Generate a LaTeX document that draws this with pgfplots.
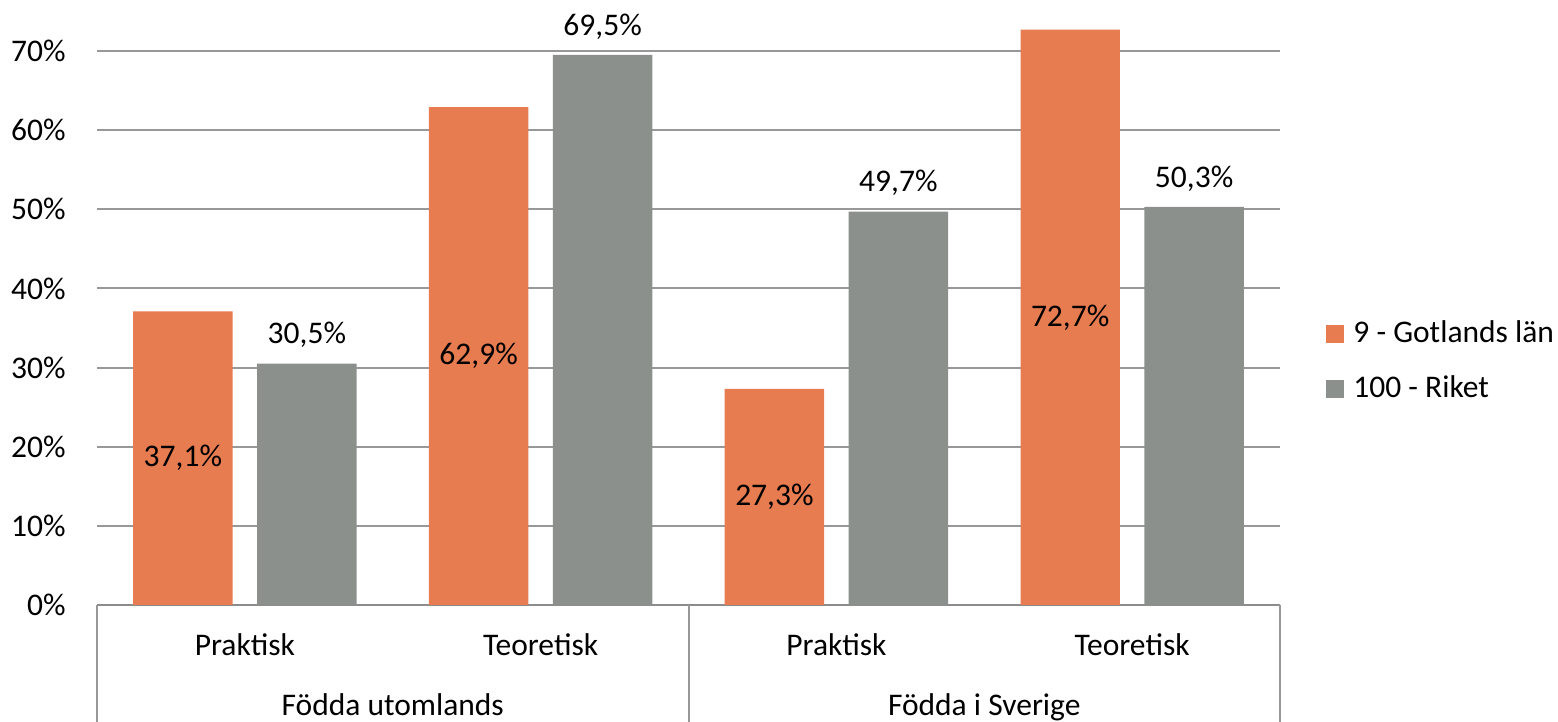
\documentclass[border=0pt]{standalone}
\usepackage{pgfplots}
\usepackage{pgfplotstable}
\pgfplotsset{compat=1.18}
\usepackage{fontspec}
\setmainfont{Carlito}
\definecolor{cOr}{RGB}{230,124,80}
\definecolor{cGr}{RGB}{140,144,141}
\definecolor{cGrid}{RGB}{152,152,152}
\definecolor{cAxis}{RGB}{140,140,140}

\pgfplotstableread{
x v
0 37.1
1 62.9
2 27.3
3 72.7
}\gotland
\pgfplotstableread{
x v
0 30.5
1 69.5
2 49.7
3 50.3
}\riket

\begin{document}
{\fontsize{15.75pt}{19pt}\selectfont
\begin{tikzpicture}
\path[use as bounding box] (-48.5pt,-58.5pt) rectangle (730.5pt,302.5pt);
\begin{axis}[
  at={(0,0)}, anchor=south west,
  scale only axis, width=591.5pt, height=302.5pt,
  xmin=-0.5, xmax=3.5, ymin=0, ymax=76.45,
  enlargelimits=false,
  clip=false,
  ybar=12.35pt, bar width=0.3357,
  axis x line*=bottom, axis y line*=left,
  x axis line style={draw=cAxis, line width=1pt, -},
  y axis line style={draw=none},
  major tick length=0pt,
  ytick={0,10,20,30,40,50,60,70},
  yticklabels={0\%,10\%,20\%,30\%,40\%,50\%,60\%,70\%},
  yticklabel style={anchor=east, inner sep=0pt, xshift=-15.5pt},
  xtick={0,1,2,3},
  xticklabels={Praktisk,Teoretisk,Praktisk,Teoretisk},
  xticklabel style={anchor=base, inner sep=0pt, yshift=-25.5pt},
  ymajorgrids, grid style={draw=cGrid, line width=1pt},
  legend style={draw=none, fill=none, at={(1.0389,0.4058)}, anchor=west,
    inner xsep=0pt, inner ysep=0pt, row sep=16.5pt,
    nodes={inner sep=0pt, text depth=0pt, anchor=base west},
    /tikz/every odd column/.append style={column sep=4.5pt}},
  legend cell align=left,
]
\addplot[fill=cOr, draw=none,
  nodes near coords={\pgfmathprintnumber[fixed,fixed zerofill,precision=1,use comma,assume math mode=true]{\pgfplotspointmeta}\%},
  visualization depends on={rawy \as \vv},
  every node near coord/.append style={anchor=center, inner sep=0pt, yshift=-\vv*1.9785pt, text=black},
  legend image code/.code={\fill[cOr] (0pt,0pt) rectangle (9pt,9pt);}
] table[x=x,y=v]{\gotland};
\addlegendentry{9 - Gotlands län}
\addplot[fill=cGr, draw=none,
  nodes near coords={\pgfmathprintnumber[fixed,fixed zerofill,precision=1,use comma,assume math mode=true]{\pgfplotspointmeta}\%},
  every node near coord/.append style={anchor=center, inner sep=0pt, yshift=14.25pt, text=black},
  legend image code/.code={\fill[cGr] (0pt,0pt) rectangle (9pt,9pt);}
] table[x=x,y=v]{\riket};
\addlegendentry{100 - Riket}
\draw[cGrid, line width=1pt] (axis cs:-0.5,0) -- ++(0pt,-58.5pt);
\draw[cGrid, line width=1pt] (axis cs:1.5,0) -- ++(0pt,-58.5pt);
\draw[cGrid, line width=1pt] (axis cs:3.5,0) -- ++(0pt,-58.5pt);
\node[anchor=base, inner sep=0pt] at ([yshift=-55.5pt]axis cs:0.5,0) {Födda utomlands};
\node[anchor=base, inner sep=0pt] at ([yshift=-55.5pt]axis cs:2.5,0) {Födda i Sverige};
\end{axis}
\end{tikzpicture}}
\end{document}
